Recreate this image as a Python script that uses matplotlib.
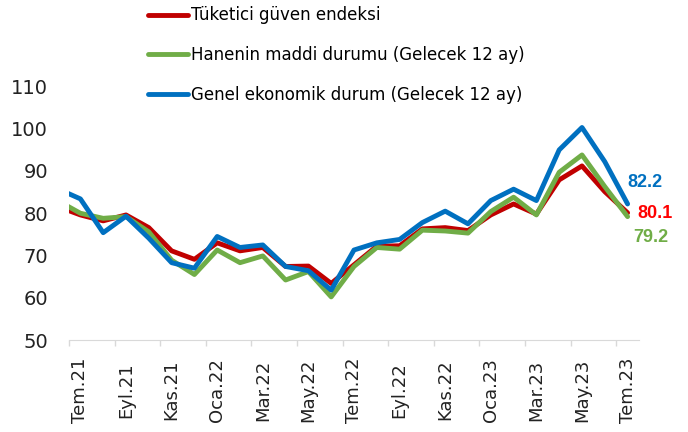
import matplotlib
matplotlib.use("Agg")
import matplotlib.pyplot as plt
import numpy as np

plt.rcParams['font.family'] = 'DejaVu Sans'

# aylar (Haz.21 sadece sol kenarda kesik gorunuyor)
aylar = ["Haz.21", "Tem.21", "Ağu.21", "Eyl.21", "Eki.21", "Kas.21", "Ara.21",
         "Oca.22", "Şub.22", "Mar.22", "Nis.22", "May.22", "Haz.22", "Tem.22",
         "Ağu.22", "Eyl.22", "Eki.22", "Kas.22", "Ara.22", "Oca.23", "Şub.23",
         "Mar.23", "Nis.23", "May.23", "Haz.23", "Tem.23"]

tuketici = [81.6, 79.6, 78.2, 79.6, 76.6, 71.1, 69.1, 73.0, 71.1, 71.9, 67.4, 67.5, 63.4,
            67.8, 72.2, 72.3, 76.3, 76.6, 75.9, 79.6, 82.2, 79.8, 87.9, 91.2, 85.1, 80.1]
hane = [83.0, 80.0, 78.8, 79.2, 75.6, 68.9, 65.5, 71.3, 68.3, 69.9, 64.2, 66.2, 60.2,
        67.4, 71.9, 71.5, 76.0, 75.8, 75.3, 80.4, 83.8, 79.6, 89.7, 93.8, 86.3, 79.2]
genel = [85.8, 83.4, 75.4, 79.3, 74.1, 68.3, 67.0, 74.5, 71.9, 72.5, 67.4, 66.4, 61.8,
         71.3, 73.0, 73.8, 77.8, 80.5, 77.5, 83.0, 85.7, 83.0, 95.0, 100.3, 92.2, 82.2]

etiketler = ["Tüketici güven endeksi",
             "Hanenin maddi durumu (Gelecek 12 ay)",
             "Genel ekonomik durum (Gelecek 12 ay)"]
renkler = ["#C00000", "#70AD47", "#0070C0"]
yazi_renk = ["#FF0000", "#70AD47", "#0070C0"]
# son deger etiketlerinin kaymasi (piksel)
kayma = [(10, -1), (6, -21), (0, 21)]

x = np.arange(len(aylar)) - 1  # Tem.21 = 0

fig = plt.figure(figsize=(6.88, 4.32), dpi=100)
ax = fig.add_axes([69/688, 1-340/432, (639-69)/688, (340-86.5)/432])

cizgiler = []
for seri, renk, et in zip([tuketici, hane, genel], renkler, etiketler):
    l, = ax.plot(x, seri, color=renk, lw=3.5, solid_joinstyle='round',
                 solid_capstyle='round', label=et)
    cizgiler.append(l)

# son degerler
for seri, renk, (dx, dy) in zip([tuketici, hane, genel], yazi_renk, kayma):
    ax.annotate(f"{seri[-1]:.1f}", xy=(x[-1], seri[-1]), xytext=(dx, dy),
                textcoords='offset pixels', ha='left', va='center',
                color=renk, fontsize=13, fontweight='bold',
                family='Liberation Sans')

ax.set_xlim(-0.5, 24.5)
ax.set_ylim(50, 110)
ax.set_yticks(np.arange(50, 111, 10))
ax.tick_params(axis='y', length=0, pad=15, labelsize=14, colors='#222222')

# ana tikler kategori sinirlarinda, etiketler kategori ortasinda
ax.set_xticks(np.arange(-0.5, 24, 2))
ax.set_xticklabels([])
ax.set_xticks(x[1::2], minor=True)
ax.set_xticklabels(aylar[1::2], minor=True, rotation=90, va='center', fontsize=13)
ax.tick_params(axis='x', which='major', length=4.3, width=1, color='#d9d9d9')
ax.tick_params(axis='x', which='minor', length=0, pad=36, colors='#222222')

for s in ['left', 'top', 'right']:
    ax.spines[s].set_visible(False)
ax.spines['bottom'].set_color('#d9d9d9')

fig.legend(handles=cizgiler, loc='upper left', bbox_to_anchor=(148/688, 0.985),
           frameon=False, borderpad=0, borderaxespad=0, fontsize=12,
           handlelength=2.4, handletextpad=0.16, labelspacing=1.3)

fig.savefig("out.png", dpi=100)
